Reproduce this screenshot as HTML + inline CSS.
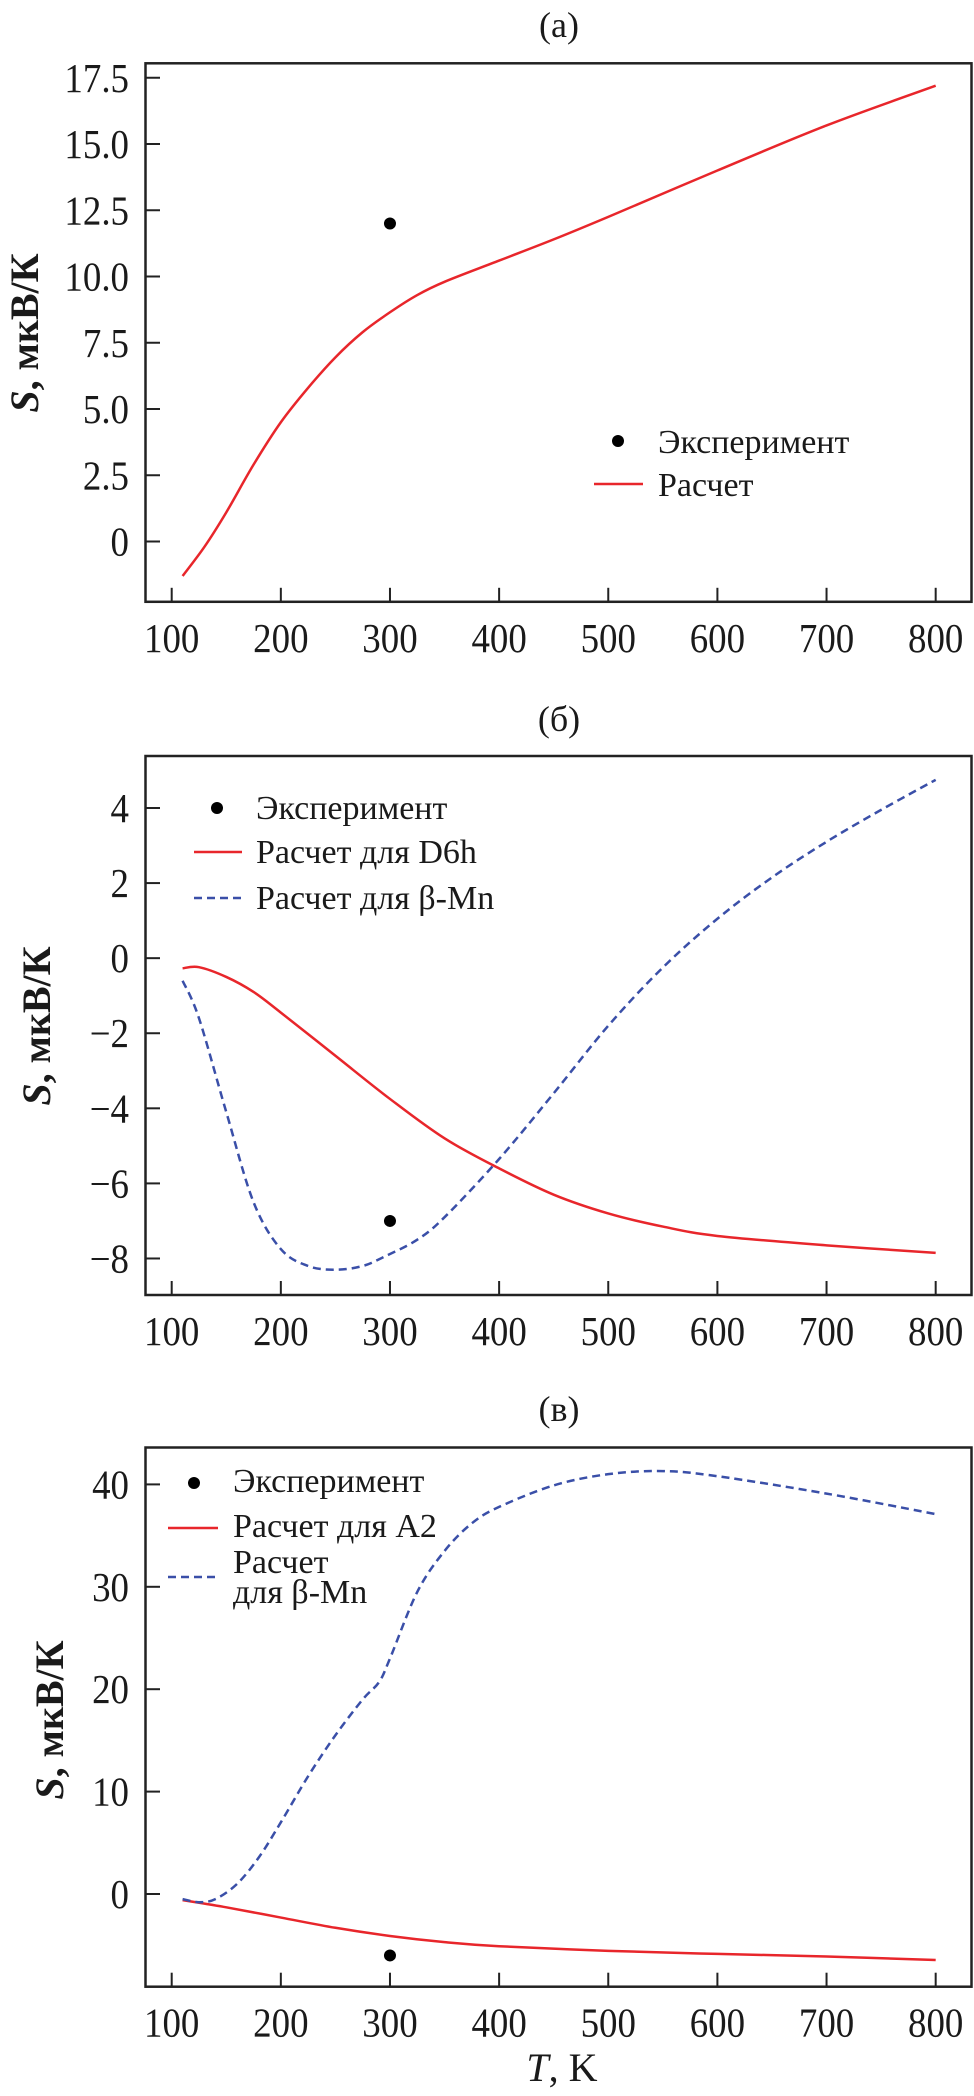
<!DOCTYPE html>
<html><head><meta charset="utf-8"><style>
html,body{margin:0;padding:0;background:#fff;}
svg{display:block;}
text{font-family:"Liberation Serif","DejaVu Serif","Times New Roman","Noto Serif CJK SC",serif;fill:#1a1a1a;}
</style></head><body>
<svg id="s" width="974" height="2096" viewBox="0 0 974 2096" xmlns="http://www.w3.org/2000/svg">
<text x="559" y="37" font-size="36" text-anchor="middle">(a)</text>
<text x="559" y="731" font-size="36" text-anchor="middle">(б)</text>
<text x="559" y="1421" font-size="36" text-anchor="middle">(в)</text>
<text transform="translate(38,333) rotate(-90)" font-size="40" font-weight="bold" text-anchor="middle"><tspan font-style="italic">S</tspan>, мкВ/К</text>
<text transform="translate(50,1026) rotate(-90)" font-size="40" font-weight="bold" text-anchor="middle"><tspan font-style="italic">S</tspan>, мкВ/К</text>
<text transform="translate(63,1720) rotate(-90)" font-size="40" font-weight="bold" text-anchor="middle"><tspan font-style="italic">S</tspan>, мкВ/К</text>
<text x="562" y="2081" font-size="40" text-anchor="middle"><tspan font-style="italic">T</tspan>, K</text>

<circle cx="618" cy="441" r="6" fill="#000"/>
<text x="658" y="453" font-size="34">Эксперимент</text>
<line x1="594" y1="484" x2="643" y2="484" stroke="#e8262b" stroke-width="2.5"/>
<text x="658" y="496" font-size="34">Расчет</text>

<circle cx="217" cy="808" r="6" fill="#000"/>
<text x="256" y="819" font-size="34">Эксперимент</text>
<line x1="194" y1="852" x2="242" y2="852" stroke="#e8262b" stroke-width="2.5"/>
<text x="256" y="863" font-size="34">Расчет для D6h</text>
<line x1="194" y1="898" x2="242" y2="898" stroke="#3a4fa8" stroke-width="2.5" stroke-dasharray="8,5"/>
<text x="256" y="909" font-size="34">Расчет для β-Mn</text>

<circle cx="194" cy="1483" r="6" fill="#000"/>
<text x="233" y="1492" font-size="34">Эксперимент</text>
<line x1="168" y1="1528" x2="218" y2="1528" stroke="#e8262b" stroke-width="2.5"/>
<text x="233" y="1537" font-size="34">Расчет для A2</text>
<line x1="168" y1="1577" x2="218" y2="1577" stroke="#3a4fa8" stroke-width="2.5" stroke-dasharray="8,5"/>
<text x="233" y="1573" font-size="34">Расчет</text>
<text x="233" y="1603" font-size="34">для β-Mn</text>
<g id="g"></g>
</svg>
<script>
var g=document.getElementById('g'),NS='http://www.w3.org/2000/svg';
function el(n,a,t){var e=document.createElementNS(NS,n);for(var k in a)e.setAttribute(k,a[k]);if(t!=null)e.textContent=t;g.appendChild(e);return e;}
function X(T){return 171.7+(T-100)*1.0914;}
function path(pts,fy,attrs){
 var p=pts.map(function(q){return [X(q[0]),fy(q[1])];});
 var d='M'+p[0][0].toFixed(1)+','+p[0][1].toFixed(1);
 for(var i=0;i<p.length-1;i++){
  var p0=p[i-1]||p[i],p1=p[i],p2=p[i+1],p3=p[i+2]||p2;
  var c1=[p1[0]+(p2[0]-p0[0])/6,p1[1]+(p2[1]-p0[1])/6];
  var c2=[p2[0]-(p3[0]-p1[0])/6,p2[1]-(p3[1]-p1[1])/6];
  d+=' C'+c1.join(',')+' '+c2.join(',')+' '+p2.join(',');
 }
 attrs.d=d;attrs.fill='none';el('path',attrs);
}
function panel(top,bot,fy,yt,ylab){
 el('rect',{x:145.5,y:top,width:826,height:bot-top,fill:'none',stroke:'#222','stroke-width':2.5});
 for(var T=100;T<=800;T+=100){var x=X(T);
  el('line',{x1:x,y1:bot,x2:x,y2:bot-14,stroke:'#222','stroke-width':2});
  el('text',{x:0,y:0,'font-size':41,'text-anchor':'middle',transform:'translate('+x+','+(bot+50)+') scale(0.9,1)'},String(T));}
 yt.forEach(function(v,i){var y=fy(v);
  el('line',{x1:145.5,y1:y,x2:160,y2:y,stroke:'#222','stroke-width':2});
  el('text',{x:0,y:0,'font-size':41,'text-anchor':'end',transform:'translate(129,'+(y+14)+') scale(0.9,1)'},ylab[i]);});
}
var ya=function(S){return 541.5-S*26.5;};
var yb=function(S){return 808-(S-4)*37.54;};
var yc=function(S){return 1894-S*10.24;};
panel(63.3,601.8,ya,[0,2.5,5,7.5,10,12.5,15,17.5],['0','2.5','5.0','7.5','10.0','12.5','15.0','17.5']);
panel(756,1295,yb,[-8,-6,-4,-2,0,2,4],['\u22128','\u22126','\u22124','\u22122','0','2','4']);
panel(1447.5,1986.7,yc,[0,10,20,30,40],['0','10','20','30','40']);
var R={stroke:'#e8262b','stroke-width':2.5},B={stroke:'#3a4fa8','stroke-width':2.5,'stroke-dasharray':'8,5'};
path([[110,-1.3],[130,-0.2],[150,1.1],[175,2.9],[200,4.5],[225,5.8],[250,6.95],[275,7.9],[300,8.65],[325,9.3],[350,9.8],[400,10.6],[450,11.4],[500,12.25],[600,14],[700,15.7],[800,17.2]],ya,R);
el('circle',{cx:X(300),cy:ya(12),r:6,fill:'#000'});
path([[110,-0.27],[125,-0.24],[150,-0.5],[175,-0.9],[200,-1.45],[250,-2.6],[300,-3.75],[350,-4.8],[400,-5.6],[450,-6.3],[500,-6.8],[550,-7.15],[600,-7.4],[700,-7.65],[800,-7.85]],yb,R);
path([[110,-0.6],[125,-1.6],[150,-4.1],[175,-6.5],[200,-7.75],[225,-8.2],[250,-8.3],[275,-8.2],[295,-7.95],[325,-7.5],[350,-6.9],[400,-5.35],[450,-3.6],[500,-1.8],[550,-0.25],[600,1.05],[650,2.15],[700,3.1],[750,3.95],[800,4.75]],yb,B);
el('circle',{cx:X(300),cy:yb(-7),r:6,fill:'#000'});
path([[110,-0.6],[150,-1.3],[200,-2.3],[250,-3.3],[300,-4.1],[350,-4.7],[400,-5.1],[500,-5.55],[600,-5.85],[700,-6.1],[800,-6.45]],yc,R);
path([[110,-0.5],[125,-0.8],[140,-0.5],[160,1],[180,3.6],[200,7],[225,11.5],[250,15.5],[275,19],[290,20.7],[300,23],[325,29.5],[350,33.5],[375,36.2],[400,37.8],[450,39.9],[500,41],[550,41.3],[600,40.8],[700,39.1],[800,37.1]],yc,B);
el('circle',{cx:X(300),cy:yc(-6),r:6,fill:'#000'});
</script>
</body></html>
